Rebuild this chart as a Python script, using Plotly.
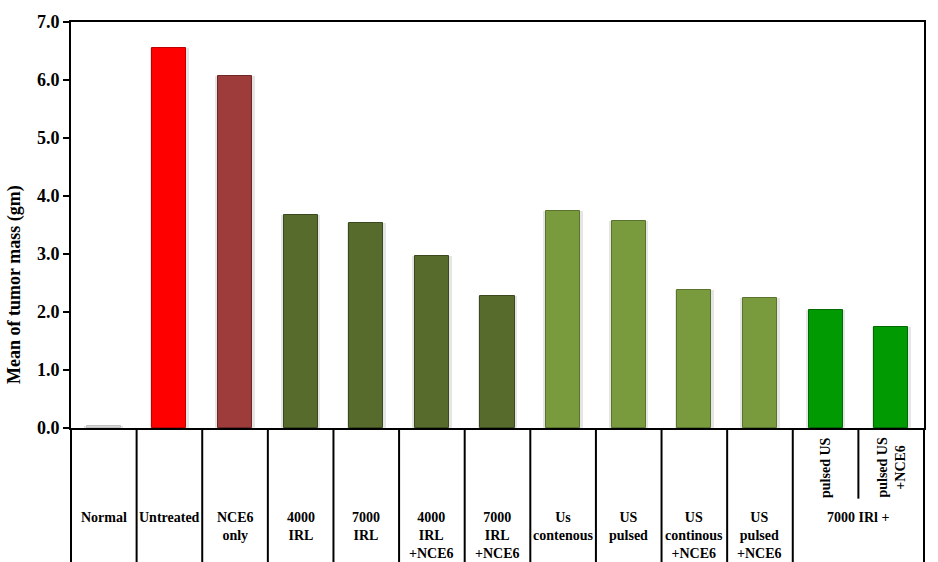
import plotly.graph_objects as go

categories = ["Normal", "Untreated", "NCE6<br>only", "4000<br>IRL", "7000<br>IRL",
              "4000<br>IRL<br>+NCE6", "7000<br>IRL<br>+NCE6", "Us<br>contenous",
              "US<br>pulsed", "US<br>continous<br>+NCE6", "US<br>pulsed<br>+NCE6",
              "pulsed US", "pulsed US<br>+NCE6"]
values = [0.03, 6.55, 6.07, 3.67, 3.53, 2.96, 2.28, 3.75, 3.57, 2.38, 2.25, 2.03, 1.74]
colors = ["#D9D9D9", "#FF0000", "#9E3B3B", "#566B2C", "#566B2C", "#566B2C", "#566B2C",
          "#7A9A3E", "#7A9A3E", "#7A9A3E", "#7A9A3E", "#029A02", "#029A02"]
edge_colors = ["#BFBFBF", "#C00000", "#6E2727", "#3B4A1E", "#3B4A1E", "#3B4A1E", "#3B4A1E",
               "#5A7430", "#5A7430", "#5A7430", "#5A7430", "#016A01", "#016A01"]
group_label = "7000 IRl +"
y_ticks = [0, 1, 2, 3, 4, 5, 6, 7]

n = len(categories)
xs = list(range(n))

fig = go.Figure()
# soft shadow
fig.add_trace(go.Bar(x=xs, y=values, width=0.60, marker=dict(color="rgba(0,0,0,0.10)", line=dict(width=0)),
                     hoverinfo="skip", showlegend=False))
fig.add_trace(go.Bar(x=xs, y=values, width=0.52,
                     marker=dict(color=colors, line=dict(color=edge_colors, width=1)),
                     showlegend=False))

font_main = dict(family="Liberation Serif", size=14, color="black", weight="bold")

shapes = []
# table vertical lines
for k in range(n + 1):
    y_end = -0.34
    if k == 12:
        y_end = -0.174
    shapes.append(dict(type="line", xref="paper", yref="paper", x0=k / n, x1=k / n,
                       y0=0, y1=y_end, line=dict(color="black", width=2)))

annotations = []
for i, c in enumerate(categories):
    if i >= 11:
        annotations.append(dict(x=i, xref="x", y=-0.097, yref="paper", text=c, showarrow=False,
                                textangle=-90, font=font_main, xanchor="center", yanchor="middle"))
    else:
        annotations.append(dict(x=i, xref="x", y=-0.196, yref="paper", text=c, showarrow=False,
                                font=font_main, xanchor="center", yanchor="top"))
annotations.append(dict(x=11.5, xref="x", y=-0.196, yref="paper", text=group_label, showarrow=False,
                        font=font_main, xanchor="center", yanchor="top"))
annotations.append(dict(x=-0.0655, xref="paper", y=0.3527, yref="paper", text="Mean of tumor mass (gm)",
                        showarrow=False, textangle=-90,
                        font=dict(family="Liberation Serif", size=18, color="black", weight="bold"),
                        xanchor="center", yanchor="middle"))

fig.update_layout(
    width=938, height=562,
    margin=dict(l=71, r=12, t=14, b=134),
    plot_bgcolor="white", paper_bgcolor="white",
    barmode="overlay", bargap=0,
    shapes=shapes, annotations=annotations,
    xaxis=dict(range=[-0.5, n - 0.5], showticklabels=False, ticks="", showgrid=False,
               zeroline=False, showline=True, linecolor="black", linewidth=2, mirror=True),
    yaxis=dict(range=[0, 7], tickvals=y_ticks, tickformat=".1f", ticks="outside", ticklen=6,
               tickwidth=2, tickcolor="black", showgrid=False, zeroline=False, showline=True,
               linecolor="black", linewidth=2, mirror=True,
               tickfont=dict(family="Liberation Serif", size=18, color="black", weight="bold")),
)

fig.write_html("out.html")
